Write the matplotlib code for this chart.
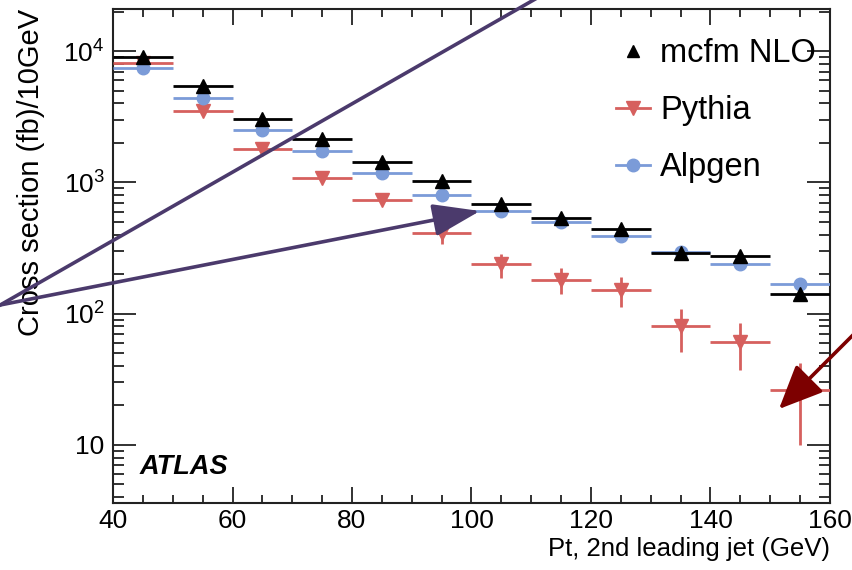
import numpy as np
import matplotlib
matplotlib.use("Agg")
import matplotlib.pyplot as plt
from matplotlib.lines import Line2D
from matplotlib.patches import FancyArrowPatch
from matplotlib.ticker import FixedLocator, LogLocator, FuncFormatter, MultipleLocator, NullFormatter

plt.rcParams['font.family'] = ['Liberation Sans', 'DejaVu Sans']
plt.rcParams['mathtext.fontset'] = 'custom'
plt.rcParams['mathtext.rm'] = 'Liberation Sans'

# bin centres (GeV), half width 5 GeV
pt_bins = [45, 55, 65, 75, 85, 95, 105, 115, 125, 135, 145, 155]
bin_halfwidth = 5

mcfm_nlo = [9100, 5400, 3050, 2130, 1420, 1020, 680, 540, 445, 292, 277, 142]
pythia = [8200, 3480, 1790, 1090, 740, 415, 237, 179, 152, 80, 61, 26]
pythia_err_up = [300, 200, 120, 90, 70, 63, 50, 45, 39, 29, 24, 16]
pythia_err_dn = [300, 200, 120, 90, 70, 73, 49, 39, 39, 29, 24, 16]
alpgen = [7400, 4380, 2490, 1730, 1170, 796, 611, 496, 394, 295, 237, 167]

black = "black"
red = "#d6605e"
blue = "#7b9bd8"
purple = "#4b3a6c"
darkred = "#7d0000"

fig = plt.figure(figsize=(8.53, 5.70), dpi=100)
ax = fig.add_axes([113/853, 1-503/570, (830-113)/853, (503-9)/570])

ax.errorbar(pt_bins, pythia, xerr=bin_halfwidth, yerr=[pythia_err_dn, pythia_err_up],
            fmt='v', color=red, ms=10, elinewidth=2, capsize=0, zorder=3)
ax.errorbar(pt_bins, alpgen, xerr=bin_halfwidth, fmt='o', color=blue, ms=9,
            elinewidth=2, capsize=0, zorder=4)
ax.errorbar(pt_bins, mcfm_nlo, xerr=bin_halfwidth, fmt='^', color=black, ms=10,
            elinewidth=2, capsize=0, zorder=5)

ax.set_yscale('log')
ax.set_xlim(40, 160)
ax.set_ylim(3.6, 2.1e4)

ax.xaxis.set_major_locator(MultipleLocator(20))
ax.xaxis.set_minor_locator(MultipleLocator(5))
ax.yaxis.set_major_locator(FixedLocator([10, 100, 1000, 10000]))
ax.yaxis.set_minor_locator(LogLocator(base=10, subs=np.arange(2, 10)))
ax.yaxis.set_minor_formatter(NullFormatter())


def ylab(v, pos):
    e = int(round(np.log10(v)))
    if e == 1:
        return "10"
    return r"$\mathregular{10^{%d}}$" % e


ax.yaxis.set_major_formatter(FuncFormatter(ylab))
ax.tick_params(axis='both', which='both', direction='in', top=True, right=True,
               labelsize=19, width=1.3, color='#222222')
ax.tick_params(axis='x', which='major', length=11.5, pad=4)
ax.tick_params(axis='x', which='minor', length=6)
ax.tick_params(axis='y', which='major', length=16.5, pad=6)
ax.tick_params(axis='y', which='minor', length=8)
for s in ax.spines.values():
    s.set_linewidth(1.5)
    s.set_color('#222222')

ax.set_xlabel("Pt, 2nd leading jet (GeV)", fontsize=18.5, loc='right', labelpad=3)
ax.set_ylabel("Cross section (fb)/10GeV", fontsize=21, loc='top', labelpad=13)

ax.text(140/853, 1-467/570, "ATLAS", transform=fig.transFigure, fontsize=19.5,
        fontweight='bold', fontstyle='italic', va='center', ha='left')

handles = [
    Line2D([], [], ls='none', marker='^', color=black, ms=8),
    Line2D([], [], color=red, marker='v', ms=10, lw=2),
    Line2D([], [], color=blue, marker='o', ms=9, lw=2),
]
ax.legend(handles, ["mcfm NLO", "Pythia", "Alpgen"], loc='upper left',
          bbox_to_anchor=(616/853, 1-38/570), bbox_transform=fig.transFigure,
          frameon=False, fontsize=23.5, handlelength=1.05, handletextpad=0.3,
          labelspacing=0.8, borderpad=0, borderaxespad=0)


def px(x, y):
    return (x/853, 1-y/570)


# overlaid annotation strokes
fig.add_artist(Line2D([px(-5, 308)[0], px(600, -38)[0]], [px(-5, 308)[1], px(600, -38)[1]],
                      transform=fig.transFigure, color=purple, lw=2.6, zorder=10))
fig.add_artist(FancyArrowPatch(px(-5, 306), px(480, 211), transform=fig.transFigure,
                               arrowstyle='-|>,head_length=29,head_width=10',
                               mutation_scale=1, shrinkA=0, shrinkB=0,
                               color=purple, lw=2.6, zorder=10))
fig.add_artist(FancyArrowPatch(px(875, 313), px(779, 409), transform=fig.transFigure,
                               arrowstyle='-|>,head_length=27,head_width=12',
                               mutation_scale=1, shrinkA=0, shrinkB=0,
                               color=darkred, lw=2.6, zorder=10))

fig.savefig("out.png", dpi=100)
